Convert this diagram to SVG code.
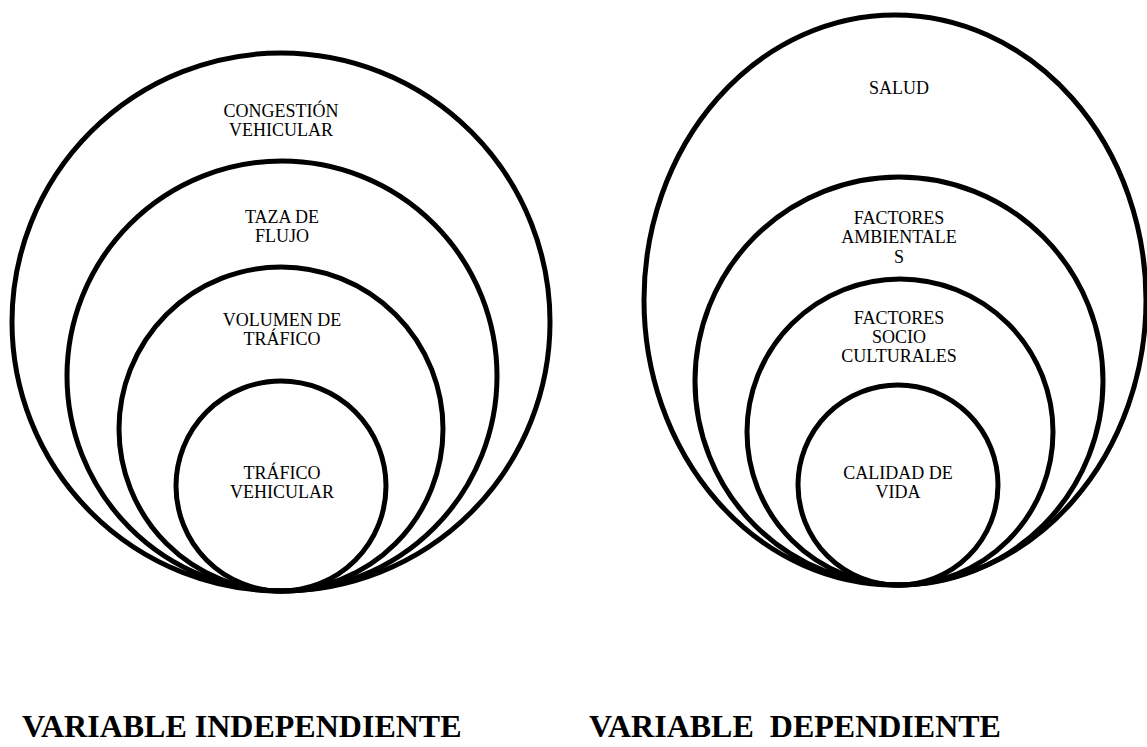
<svg xmlns="http://www.w3.org/2000/svg" width="1147" height="747" viewBox="0 0 1147 747">
<style>
.ring{fill:none;stroke:#000;stroke-width:5}
.lbl{font-family:"Liberation Serif","Times New Roman",serif;font-size:18px;fill:#000;text-anchor:middle}
.ttl{font-family:"Liberation Serif","Times New Roman",serif;font-size:32px;font-weight:bold;fill:#000;white-space:pre}
</style>
<rect width="1147" height="747" fill="#fff"/>
<g id="independiente">
<g id="congestion">
<circle class="ring" cx="281" cy="322" r="269"/>
<text class="lbl" x="281" y="117">CONGESTIÓN</text>
<text class="lbl" x="281" y="136">VEHICULAR</text>
</g>
<g id="taza">
<circle class="ring" cx="282" cy="376" r="215"/>
<text class="lbl" x="282" y="223">TAZA DE</text>
<text class="lbl" x="282" y="242">FLUJO</text>
</g>
<g id="volumen">
<circle class="ring" cx="281" cy="429" r="162"/>
<text class="lbl" x="282" y="326">VOLUMEN DE</text>
<text class="lbl" x="282" y="345">TRÁFICO</text>
</g>
<g id="trafico">
<circle class="ring" cx="281" cy="486" r="105"/>
<text class="lbl" x="282" y="479">TRÁFICO</text>
<text class="lbl" x="282" y="498">VEHICULAR</text>
</g>
</g>
<g id="dependiente">
<g id="salud">
<ellipse class="ring" cx="895" cy="300" rx="251" ry="285"/>
<text class="lbl" x="899" y="94">SALUD</text>
</g>
<g id="ambientales">
<circle class="ring" cx="899" cy="381" r="204"/>
<text class="lbl" x="899" y="224">FACTORES</text>
<text class="lbl" x="899" y="243">AMBIENTALE</text>
<text class="lbl" x="899" y="263">S</text>
</g>
<g id="socioculturales">
<circle class="ring" cx="900" cy="432" r="153"/>
<text class="lbl" x="899" y="324">FACTORES</text>
<text class="lbl" x="899" y="343">SOCIO</text>
<text class="lbl" x="899" y="362">CULTURALES</text>
</g>
<g id="calidad">
<circle class="ring" cx="898" cy="485" r="100"/>
<text class="lbl" x="898" y="479">CALIDAD DE</text>
<text class="lbl" x="898" y="498">VIDA</text>
</g>
</g>
<g id="connectors"/>
<g id="titles">
<text class="ttl" x="22" y="737">VARIABLE INDEPENDIENTE</text>
<text class="ttl" x="589" y="737">VARIABLE  DEPENDIENTE</text>
</g>
</svg>
